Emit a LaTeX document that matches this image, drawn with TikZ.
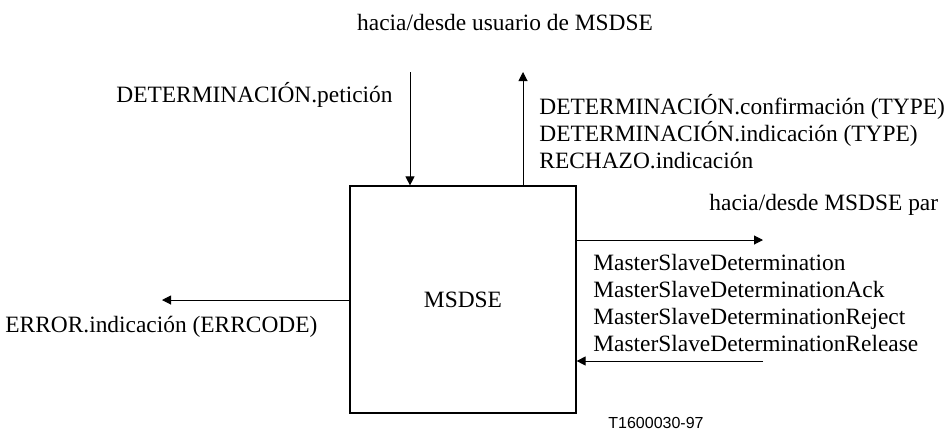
\documentclass[tikz,border=0pt]{standalone}
\usepackage{fontspec}
\setmainfont{Liberation Serif}
\newfontfamily\tagfont{Liberation Sans}
\usetikzlibrary{arrows.meta}
\tikzstyle{sig}=[-{Triangle[length=4.5pt,width=4.5pt]}, line width=.5pt]
\tikzstyle{lbl}=[inner sep=0pt, font=\fontsize{11.7}{13.5}\selectfont, align=left]
\tikzstyle{entity}=[draw, line width=.6pt, minimum width=113pt, minimum height=113.5pt, font=\fontsize{11.7}{13.5}\selectfont]

\begin{document}
\begin{tikzpicture}[x=.5pt,y=-.5pt]
    \useasboundingbox (0,0) rectangle (951,430);
    % the entity box
    \node[entity] (msdse) at (463,299.5) {MSDSE};

    % free ends of the arrows
    \coordinate (req) at (410,72);
    \coordinate (cnf) at (523,72);
    \coordinate (peerout) at (763,240);
    \coordinate (peerin) at (763,361);
    \coordinate (err) at (162,300);

    % arrows to and from the user
    \draw[sig] (req) -- (req |- msdse.north);
    \draw[sig] (cnf |- msdse.north) -- (cnf);
    % arrows to and from the peer
    \draw[sig] (peerout -| msdse.east) -- (peerout);
    \draw[sig] (peerin) -- (peerin -| msdse.east);
    \draw[sig] (err -| msdse.west) -- (err);

    % labels
    \node[lbl] (user) at (505,22) {hacia/desde usuario de MSDSE};
    \node[lbl, anchor=east] (reqlbl) at (393,95) {DETERMINACIÓN.petición};
    \node[lbl, anchor=west] (cnflbl) at (539,132)
      {DETERMINACIÓN.confirmación (TYPE)\\DETERMINACIÓN.indicación (TYPE)\\RECHAZO.indicación};
    \node[lbl, anchor=west] (peer) at (709,205) {hacia/desde MSDSE par};
    \node[lbl, anchor=west] (msgs) at (593,302.5)
      {MasterSlaveDetermination\\MasterSlaveDeterminationAck\\MasterSlaveDeterminationReject\\MasterSlaveDeterminationRelease};
    \node[lbl, anchor=west] (errlbl) at (5,327) {ERROR.indicación (ERRCODE)};
    \node[inner sep=0pt, font=\tagfont\fontsize{8}{9}\selectfont] (tag) at (656,423) {T1600030-97};
\end{tikzpicture}
\end{document}
